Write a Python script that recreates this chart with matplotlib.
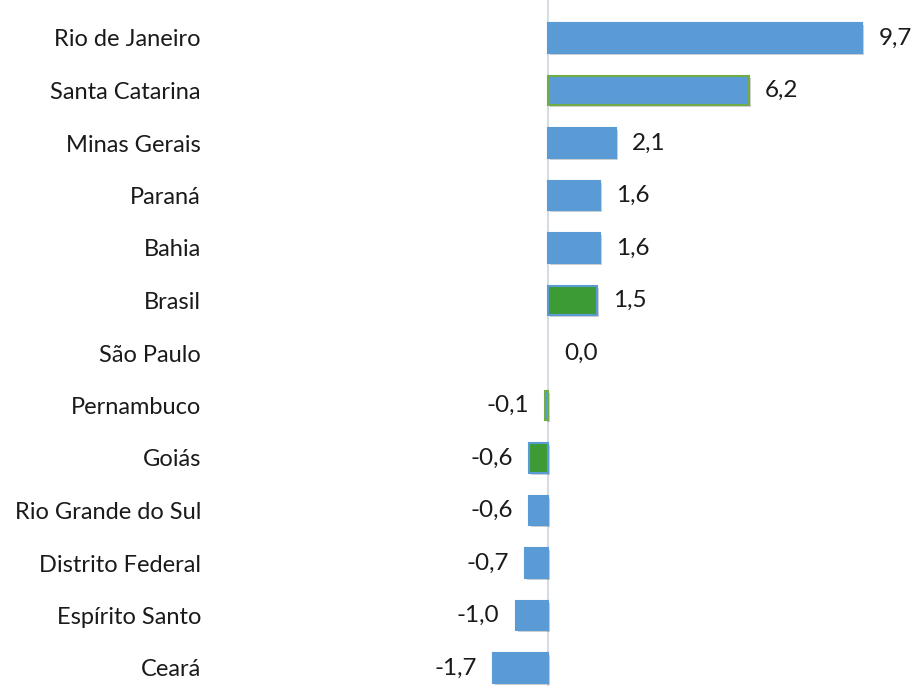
import matplotlib
matplotlib.use("Agg")
import matplotlib.pyplot as plt
import matplotlib.patheffects as pe

categories = ["Rio de Janeiro", "Santa Catarina", "Minas Gerais", "Paraná", "Bahia",
              "Brasil", "São Paulo", "Pernambuco", "Goiás", "Rio Grande do Sul",
              "Distrito Federal", "Espírito Santo", "Ceará"]
values = [9.7, 6.2, 2.1, 1.6, 1.6, 1.5, 0.0, -0.1, -0.6, -0.6, -0.7, -1.0, -1.7]
labels = ["9,7", "6,2", "2,1", "1,6", "1,6", "1,5", "0,0", "-0,1", "-0,6", "-0,6", "-0,7", "-1,0", "-1,7"]

BLUE = "#5B9BD5"
GREEN = "#3C9B34"
LGREEN = "#70AD47"
face = [BLUE, BLUE, BLUE, BLUE, BLUE, GREEN, BLUE, BLUE, GREEN, BLUE, BLUE, BLUE, BLUE]
edge = [BLUE, LGREEN, BLUE, BLUE, BLUE, BLUE, BLUE, LGREEN, BLUE, BLUE, BLUE, BLUE, BLUE]

plt.rcParams['font.family'] = ['Lato', 'DejaVu Sans']

W, H = 914, 686
fig = plt.figure(figsize=(W / 100, H / 100), dpi=100)
ax_left_px = 212
ax = fig.add_axes([ax_left_px / W, 0, 1 - ax_left_px / W, 1])

zero_px = 548
scale = 32.4
ax.set_xlim((ax_left_px - zero_px) / scale, (W - zero_px) / scale)
ax.set_ylim(12 + 18 / 52.5, -38 / 52.5)

ypos = list(range(len(categories)))
lws = [0 if v == 0 else 1.5 for v in values]
bars = ax.barh(ypos, values, height=0.56, color=face, edgecolor=edge, linewidth=lws, zorder=3)
for b, v in zip(bars, values):
    if v != 0:
        b.set_path_effects([pe.SimplePatchShadow(offset=(1.5, -1.5), shadow_rgbFace="#000000", alpha=0.18), pe.Normal()])

ax.axvline(0, color="#D6DCE4", linewidth=1.5, zorder=2)

gap = 16 / scale
for y, v, t in zip(ypos, values, labels):
    if v >= 0:
        ax.text(v + gap, y, t, ha="left", va="center", fontsize=17.5, color="#1a1a1a")
    else:
        ax.text(v - gap, y, t, ha="right", va="center", fontsize=17.5, color="#1a1a1a")

ax.set_yticks(ypos)
ax.set_yticklabels(categories, fontsize=17, color="#1a1a1a")
ax.tick_params(axis="y", length=0, pad=8)
ax.set_xticks([])
for s in ax.spines.values():
    s.set_visible(False)

fig.savefig("out.png", dpi=100)
